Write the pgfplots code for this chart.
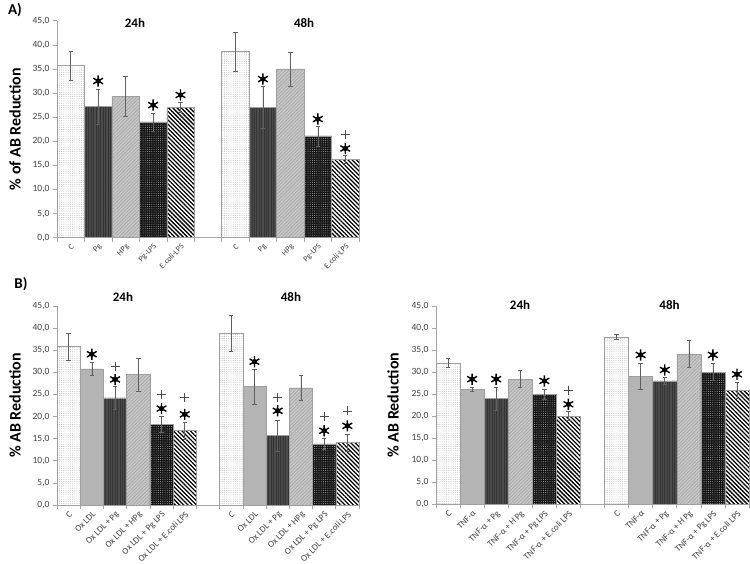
\documentclass[border=0pt]{standalone}
\usepackage{pgfplots}
\pgfplotsset{compat=1.18}
\usepackage{fontspec}
\setmainfont{Carlito}
\usetikzlibrary{patterns,patterns.meta}
\definecolor{axgray}{HTML}{A6A6A6}
\definecolor{txtgray}{HTML}{404040}
\definecolor{errgray}{HTML}{606060}
\pgfplotsset{
  panel/.style={
    scale only axis, clip=false,
    ymin=0, ymax=45, ytick={0,5,...,45},
    axis x line*=bottom, axis y line*=left,
    axis line style={axgray, line width=0.6pt},
    tick align=outside,
    major tick length=4pt, minor tick length=4pt,
    ytick style={axgray, line width=0.6pt},
    major x tick style={draw=none},
    minor x tick style={axgray, line width=0.6pt},
    /pgf/number format/assume math mode=true,
    yticklabel style={font=\fontsize{9.5}{10}\selectfont, text=txtgray,
      /pgf/number format/.cd, fixed, fixed zerofill, precision=1, use comma},
    xticklabel style={font=\fontsize{9}{9}\selectfont, text=txtgray, rotate=45, anchor=north east, inner sep=1pt},
    ylabel style={font=\fontsize{16}{18}\selectfont\bfseries, anchor=center},
  },
  bar/.style={ybar, bar width=1, bar shift=0pt, draw=gray!75, line width=0.5pt,
    error bars/y dir=both, error bars/y explicit,
    error bars/error bar style={errgray, line width=0.6pt},
    error bars/error mark options={rotate=90, mark size=2.2pt, errgray, line width=0.6pt}},
  sC/.style={bar, fill=white, postaction={pattern={Dots[distance=2.2pt, radius=0.45pt]}, pattern color=gray!60}},
  sOx/.style={bar, fill=gray!50, postaction={pattern={Dots[distance=2pt, radius=0.6pt]}, pattern color=gray!85}},
  sPg/.style={bar, fill=black!70, postaction={pattern={Lines[angle=90, distance=2.4pt, line width=0.7pt]}, pattern color=black!80}},
  sHPg/.style={bar, fill=gray!45, postaction={pattern={Lines[angle=45, distance=2.4pt, line width=0.6pt]}, pattern color=gray!70}},
  sLPS/.style={bar, fill=black!92, postaction={pattern={Dots[distance=2.2pt, radius=0.5pt]}, pattern color=gray!70}},
  sEc/.style={bar, fill=white, postaction={pattern={Lines[angle=-45, distance=3pt, line width=1.3pt]}, pattern color=black}},
  starA/.style={only marks, mark=asterisk, mark size=6pt, white, line width=2.8pt},
  starB/.style={only marks, mark=asterisk, mark size=5.6pt, black, line width=1.4pt},
  starC/.style={only marks, mark=*, mark size=2.4pt, black},
  plusS/.style={only marks, mark=+, mark size=4.5pt, black!70, line width=0.6pt},
}
\begin{document}
\begin{tikzpicture}
\path[use as bounding box] (0,0) rectangle (750pt,-563pt);
\node[font=\fontsize{15}{16}\selectfont\bfseries] at (15pt,-10.5pt) {A)};
\node[font=\fontsize{15}{16}\selectfont\bfseries] at (21pt,-284pt) {B)};

% ---------------- Panel A ----------------
\begin{axis}[panel, at={(57pt,-237.7pt)}, anchor=south west, width=302pt, height=217pt,
  xmin=-0.5, xmax=10.5,
  xtick={0,1,2,3,4,6,7,8,9,10},
  xticklabels={C,Pg,HPg,Pg-LPS,E.coli-LPS,C,Pg,HPg,Pg-LPS,E.coli-LPS},
  xticklabel style={font=\fontsize{8}{8}\selectfont},
  minor xtick={-0.5,0.5,...,10.5},
  ylabel={\% of AB Reduction},
  ylabel style={at={(axis description cs:-0.139,0.5)}},
]
\addplot[sC] coordinates {(0,35.7) +- (0,3.0) (6,38.6) +- (0,4.1)};
\addplot[sPg] coordinates {(1,27.2) +- (0,3.6) (7,27.0) +- (0,4.3)};
\addplot[sHPg] coordinates {(2,29.3) +- (0,4.1) (8,35.0) +- (0,3.5)};
\addplot[sLPS] coordinates {(3,24.0) +- (0,1.9) (9,21.1) +- (0,2.1)};
\addplot[sEc] coordinates {(4,27.0) +- (0,1.0) (10,16.3) +- (0,0.8)};
\addplot[starA] coordinates {(1,32.5) (3,27.5) (4,29.6) (7,32.9) (9,24.6) (10,18.5)};
\addplot[starB] coordinates {(1,32.5) (3,27.5) (4,29.6) (7,32.9) (9,24.6) (10,18.5)};
\addplot[starC] coordinates {(1,32.5) (3,27.5) (4,29.6) (7,32.9) (9,24.6) (10,18.5)};
\addplot[plusS] coordinates {(10,21.4)};
\node[font=\fontsize{13}{14}\selectfont\bfseries] at (axis cs:2.34,44.5) {24h};
\node[font=\fontsize{13}{14}\selectfont\bfseries] at (axis cs:8.5,44.5) {48h};
\end{axis}

% ---------------- Panel B left ----------------
\begin{axis}[panel, at={(57pt,-505pt)}, anchor=south west, width=302pt, height=199pt,
  xmin=-0.5, xmax=12.5,
  xtick={0,1,2,3,4,5,7,8,9,10,11,12},
  xticklabels={C,Ox LDL,Ox LDL + Pg,Ox LDL + HPg,Ox LDL + Pg LPS,Ox LDL + E.coli LPS,C,Ox LDL,Ox LDL + Pg,Ox LDL + HPg,Ox LDL + Pg LPS,Ox LDL + E.coli LPS},
  minor xtick={-0.5,0.5,...,12.5},
  ylabel={\% AB Reduction},
  ylabel style={at={(axis description cs:-0.139,0.5)}},
]
\addplot[sC] coordinates {(0,35.8) +- (0,3.05) (7,38.8) +- (0,4.1)};
\addplot[sOx] coordinates {(1,30.8) +- (0,1.5) (8,26.8) +- (0,4.0)};
\addplot[sPg] coordinates {(2,24.2) +- (0,2.6) (9,15.7) +- (0,3.5)};
\addplot[sHPg] coordinates {(3,29.5) +- (0,3.75) (10,26.5) +- (0,2.8)};
\addplot[sLPS] coordinates {(4,18.2) +- (0,1.75) (11,13.8) +- (0,1.2)};
\addplot[sEc] coordinates {(5,16.8) +- (0,2.0) (12,14.1) +- (0,2.0)};
\addplot[starA] coordinates {(1,34.1) (2,28.4) (4,21.8) (5,20.5) (8,32.4) (9,21.3) (11,16.8) (12,17.9)};
\addplot[starB] coordinates {(1,34.1) (2,28.4) (4,21.8) (5,20.5) (8,32.4) (9,21.3) (11,16.8) (12,17.9)};
\addplot[starC] coordinates {(1,34.1) (2,28.4) (4,21.8) (5,20.5) (8,32.4) (9,21.3) (11,16.8) (12,17.9)};
\addplot[plusS] coordinates {(2,31.3) (4,25.0) (5,24.3) (9,24.3) (11,20.1) (12,21.3)};
\node[font=\fontsize{13}{14}\selectfont\bfseries] at (axis cs:2.34,47) {24h};
\node[font=\fontsize{13}{14}\selectfont\bfseries] at (axis cs:9.57,47) {48h};
\end{axis}

% ---------------- Panel B right ----------------
\begin{axis}[panel, at={(436pt,-504.3pt)}, anchor=south west, width=313pt, height=198.3pt,
  xmin=-0.5, xmax=12.5,
  xtick={0,1,2,3,4,5,7,8,9,10,11,12},
  xticklabels={C,TNF-α,TNF-α + Pg,TNF-α + H Pg,TNF-α + Pg LPS,TNF-α + E.coli LPS,C,TNF-α,TNF-α + Pg,TNF-α + H Pg,TNF-α + Pg LPS,TNF-α + E.coli LPS},
  minor xtick={-0.5,0.5,...,12.5},
  ylabel={\% AB Reduction},
  ylabel style={at={(axis description cs:-0.137,0.5)}},
]
\addplot[sC] coordinates {(0,32.1) +- (0,1.0) (7,38.0) +- (0,0.6)};
\addplot[sOx] coordinates {(1,26.1) +- (0,0.5) (8,29.0) +- (0,2.9)};
\addplot[sPg] coordinates {(2,24.0) +- (0,2.6) (9,28.0) +- (0,0.85)};
\addplot[sHPg] coordinates {(3,28.4) +- (0,1.9) (10,34.1) +- (0,3.1)};
\addplot[sLPS] coordinates {(4,25.0) +- (0,1.1) (11,30.0) +- (0,1.9)};
\addplot[sEc] coordinates {(5,20.0) +- (0,1.0) (12,25.9) +- (0,1.9)};
\addplot[starA] coordinates {(1,28.4) (2,28.4) (4,28.0) (5,22.7) (8,33.9) (9,30.5) (11,33.9) (12,29.5)};
\addplot[starB] coordinates {(1,28.4) (2,28.4) (4,28.0) (5,22.7) (8,33.9) (9,30.5) (11,33.9) (12,29.5)};
\addplot[starC] coordinates {(1,28.4) (2,28.4) (4,28.0) (5,22.7) (8,33.9) (9,30.5) (11,33.9) (12,29.5)};
\addplot[plusS] coordinates {(5,25.9)};
\node[font=\fontsize{13}{14}\selectfont\bfseries] at (axis cs:2.99,45.3) {24h};
\node[font=\fontsize{13}{14}\selectfont\bfseries] at (axis cs:9.2,45.3) {48h};
\end{axis}
\end{tikzpicture}
\end{document}
